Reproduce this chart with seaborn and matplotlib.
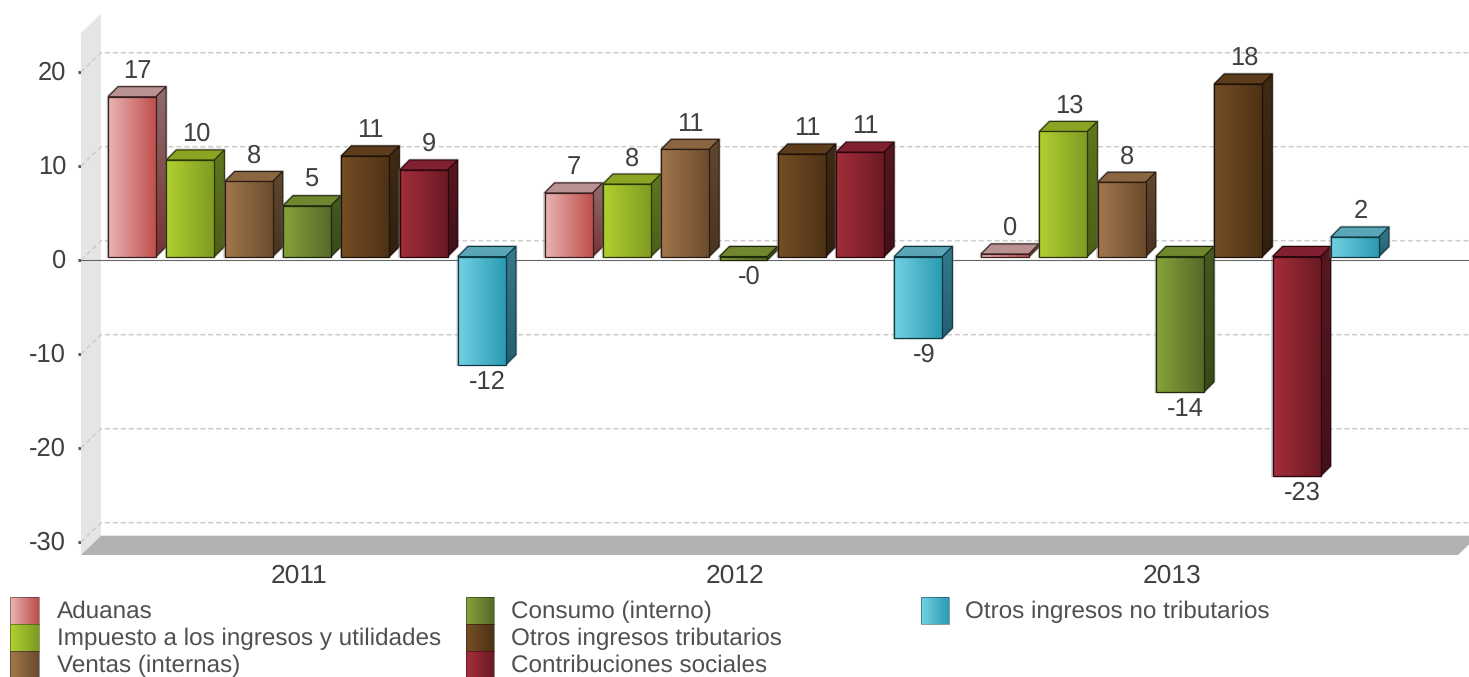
import numpy as np
import pandas as pd
import matplotlib
matplotlib.use("Agg")
import matplotlib.pyplot as plt
from matplotlib.colors import to_rgb
from matplotlib.patches import Polygon, Rectangle
from matplotlib.transforms import ScaledTranslation
import seaborn as sns

years = ["2011", "2012", "2013"]
categories = ["Aduanas", "Impuesto a los ingresos y utilidades", "Ventas (internas)",
              "Consumo (interno)", "Otros ingresos tributarios", "Contribuciones sociales",
              "Otros ingresos no tributarios"]
aduanas = [17.0, 6.76, 0.27]
impuesto = [10.27, 7.7, 13.3]
ventas = [7.98, 11.4, 7.9]
consumo = [5.4, -0.35, -14.4]
otros_trib = [10.7, 10.9, 18.35]
contrib = [9.2, 11.1, -23.35]
otros_no_trib = [-11.5, -8.67, 2.07]
series = [aduanas, impuesto, ventas, consumo, otros_trib, contrib, otros_no_trib]
y_ticks = [20, 10, 0, -10, -20, -30]

front_l = ["#e8b4b4", "#b0d030", "#a3774c", "#87a33a", "#754e23", "#a32e3a", "#73d1e2"]
front_r = ["#c0504d", "#7f9c22", "#6c4c2e", "#566a28", "#4e3216", "#6c1a24", "#2a9bb4"]
top_c = ["#b99292", "#8aa524", "#8a6541", "#70862f", "#5c3c1b", "#802030", "#5aa6b8"]
side_t = ["#8e6c6c", "#60761f", "#5f4731", "#47591f", "#3f2a14", "#571720", "#36798b"]
side_b = ["#7a3233", "#4e5f16", "#4a3421", "#394a19", "#30200f", "#421119", "#235f70"]
edge_c = ["#3a1f1f", "#2b3508", "#2a1c10", "#1e280a", "#1d1208", "#2a070c", "#0f3a44"]

W, H = 1469, 677
DPI = 100
sns.set_theme(style="white", rc={"axes.facecolor": "none", "figure.facecolor": "white"})
plt.rcParams["font.family"] = ["Liberation Sans", "DejaVu Sans"]
plt.rcParams["text.hinting"] = "no_hinting"
plt.rcParams["text.hinting_factor"] = 8
TXT = "#404040"
FS = 18.4

fig = plt.figure(figsize=(W / DPI, H / DPI), dpi=DPI)

# scales, px per unit
PX_X, PX_Y = 436.5, 9.4

# ---- back plane: wall, floor, grid, ticks -----------------------------
L, R, T, B = 81, 1458, 33, 555
ax_bg = fig.add_axes([L / W, 1 - B / H, (R - L) / W, (B - T) / H])
x0, x1 = (L - 299) / PX_X, (R - 299) / PX_X
ybot, ytop = (260 - B) / PX_Y, (260 - T) / PX_Y
ax_bg.set_xlim(x0, x1)
ax_bg.set_ylim(ybot, ytop)
dx, dy = 20 / PX_X, 19.3 / PX_Y
ax_bg.add_patch(Polygon([(x0, ybot), (x0 + dx, ybot + dy), (x0 + dx, ytop + dy), (x0, ytop)],
                        fc="#e5e5e5", ec="none", clip_on=False, zorder=1))
for t in y_ticks:
    ax_bg.plot([x0, x0 + dx, x1 + dx], [t, t + dy, t + dy], color="#cccccc", lw=1.1,
               dashes=(3.2, 2.0), clip_on=False, zorder=2)
ax_bg.add_patch(Polygon([(x0, ybot), (x0 + dx, ybot + dy), (x1 + dx, ybot + dy), (x1, ybot)],
                        fc="#b2b2b2", ec="none", clip_on=False, zorder=3))
ax_bg.plot([x0, x1 + dx], [0, 0], color="#666666", lw=0.8, clip_on=False, zorder=4)
for s in ax_bg.spines.values():
    s.set_visible(False)
ax_bg.set_yticks(y_ticks)
ax_bg.set_yticklabels([str(t) for t in y_ticks], fontsize=FS, color=TXT)
ax_bg.tick_params(axis="y", left=True, length=2.2, width=2.2, color="#555555", pad=8.5)
shift_up = ScaledTranslation(0, 1.5 / 72, fig.dpi_scale_trans)
for lbl in ax_bg.get_yticklabels():
    lbl.set_transform(lbl.get_transform() + shift_up)
ax_bg.set_xticks(range(len(years)))
ax_bg.set_xticklabels(years, fontsize=19.0, color=TXT)
ax_bg.tick_params(axis="x", bottom=False, length=0, pad=6.5)
ax_bg.grid(False)

# ---- bars ---------------------------------------------------------------
df = pd.DataFrame({
    "year": np.repeat(years, len(categories)),
    "category": categories * len(years),
    "value": [series[c][y] for y in range(len(years)) for c in range(len(categories))],
})
ax = fig.add_axes([0, 0, 1, 1])
sns.barplot(data=df, x="year", y="value", hue="category", order=years, hue_order=categories,
            palette=dict(zip(categories, front_r)), width=0.935, gap=0.177, saturation=1,
            legend=False, errorbar=None, ax=ax)
ax.set_xlim(-307 / PX_X, (W - 307) / PX_X)
ax.set_ylim((256.5 - H) / PX_Y, 256.5 / PX_Y)
ax.axis("off")
ddx, ddy = 10 / PX_X, 10 / PX_Y


def grad_image(patch, c1, c2, horizontal, z):
    xy = patch.get_xy() if isinstance(patch, Polygon) else patch.get_corners()
    xs, ys = np.asarray(xy)[:, 0], np.asarray(xy)[:, 1]
    t = np.linspace(0, 1, 64)[:, None]
    arr = (1 - t) * np.array(to_rgb(c1)) + t * np.array(to_rgb(c2))
    arr = arr[None, :, :] if horizontal else arr[:, None, :]
    im = ax.imshow(arr, extent=(xs.min(), xs.max(), ys.min(), ys.max()), aspect="auto",
                   origin="upper", interpolation="bilinear", zorder=z)
    im.set_clip_path(patch)


z = 5
for c, cont in enumerate(ax.containers):
    for rect, val in zip(cont, series[c]):
        l, r = rect.get_x(), rect.get_x() + rect.get_width()
        hi, lo = max(val, 0), min(val, 0)
        ec = edge_c[c]
        # soft shadow round the silhouette
        ax.add_patch(Polygon([(l, lo), (l, hi), (l + ddx, hi + ddy), (r + ddx, hi + ddy),
                              (r + ddx, lo + ddy), (r, lo)], fc="none", ec="#777777",
                             lw=1.9, alpha=0.45, zorder=z))
        top = Polygon([(l, hi), (l + ddx, hi + ddy), (r + ddx, hi + ddy), (r, hi)],
                      fc=top_c[c], ec=ec, lw=0.8, zorder=z + 1)
        ax.add_patch(top)
        side = Polygon([(r, hi), (r + ddx, hi + ddy), (r + ddx, lo + ddy), (r, lo)],
                       fc="none", ec=ec, lw=0.8, zorder=z + 3)
        ax.add_patch(side)
        grad_image(side, side_t[c], side_b[c], False, z + 2)
        rect.set_facecolor("none")
        rect.set_edgecolor(ec)
        rect.set_linewidth(0.9)
        rect.set_zorder(z + 5)
        grad_image(rect, front_l[c], front_r[c], True, z + 4)
        cx = (l + r) / 2
        off = (5.5 * 0.72, 25.5 * 0.72) if val >= 0 else (5.5 * 0.72, -17.5 * 0.72)
        ax.annotate(f"{val:.0f}", xy=(cx, val), xytext=off, textcoords="offset points",
                    ha="center", va="center", fontsize=FS, color=TXT, zorder=100)
        z += 6
ax.set_xlim(-307 / PX_X, (W - 307) / PX_X)
ax.set_ylim((256.5 - H) / PX_Y, 256.5 / PX_Y)


# ---- legend ---------------------------------------------------------------
class Swatch:
    def __init__(self, c1, c2, ec):
        self.c1, self.c2, self.ec = c1, c2, ec


class SwatchHandler:
    def legend_artist(self, legend, orig, fontsize, box):
        xd, yd, w, h = box.xdescent, box.ydescent, box.width, box.height
        n = 28
        for i in range(n):
            t = i / (n - 1)
            col = (1 - t) * np.array(to_rgb(orig.c1)) + t * np.array(to_rgb(orig.c2))
            box.add_artist(Rectangle((-xd + w * i / n, -yd), w / n + 0.3, h, fc=col, ec="none",
                                     transform=box.get_transform()))
        edge = Rectangle((-xd, -yd), w, h, fc="none", ec=orig.ec, lw=0.7, alpha=0.5,
                         transform=box.get_transform())
        box.add_artist(edge)
        return edge


LEG_FS = 17.5
ROW_PT = 27.0 * 0.72
hh = (ROW_PT / LEG_FS - 0.245) / 0.65
columns = [([0, 1, 2], 10, 18.5), ([3, 4, 5], 465.5, 17.0), ([6], 920.5, 16.0)]
for idx, px, pad in columns:
    fig.legend([Swatch(front_l[i], front_r[i], edge_c[i]) for i in idx],
               [categories[i] for i in idx],
               handler_map={Swatch: SwatchHandler()},
               loc="upper left", bbox_to_anchor=(px / W, 1 - 596.5 / H),
               frameon=False, fontsize=LEG_FS, labelcolor="#505050",
               borderpad=0, borderaxespad=0, labelspacing=0,
               handlelength=28.5 * 0.72 / LEG_FS, handleheight=hh,
               handletextpad=pad * 0.72 / LEG_FS)

fig.savefig("out.png", dpi=DPI)
